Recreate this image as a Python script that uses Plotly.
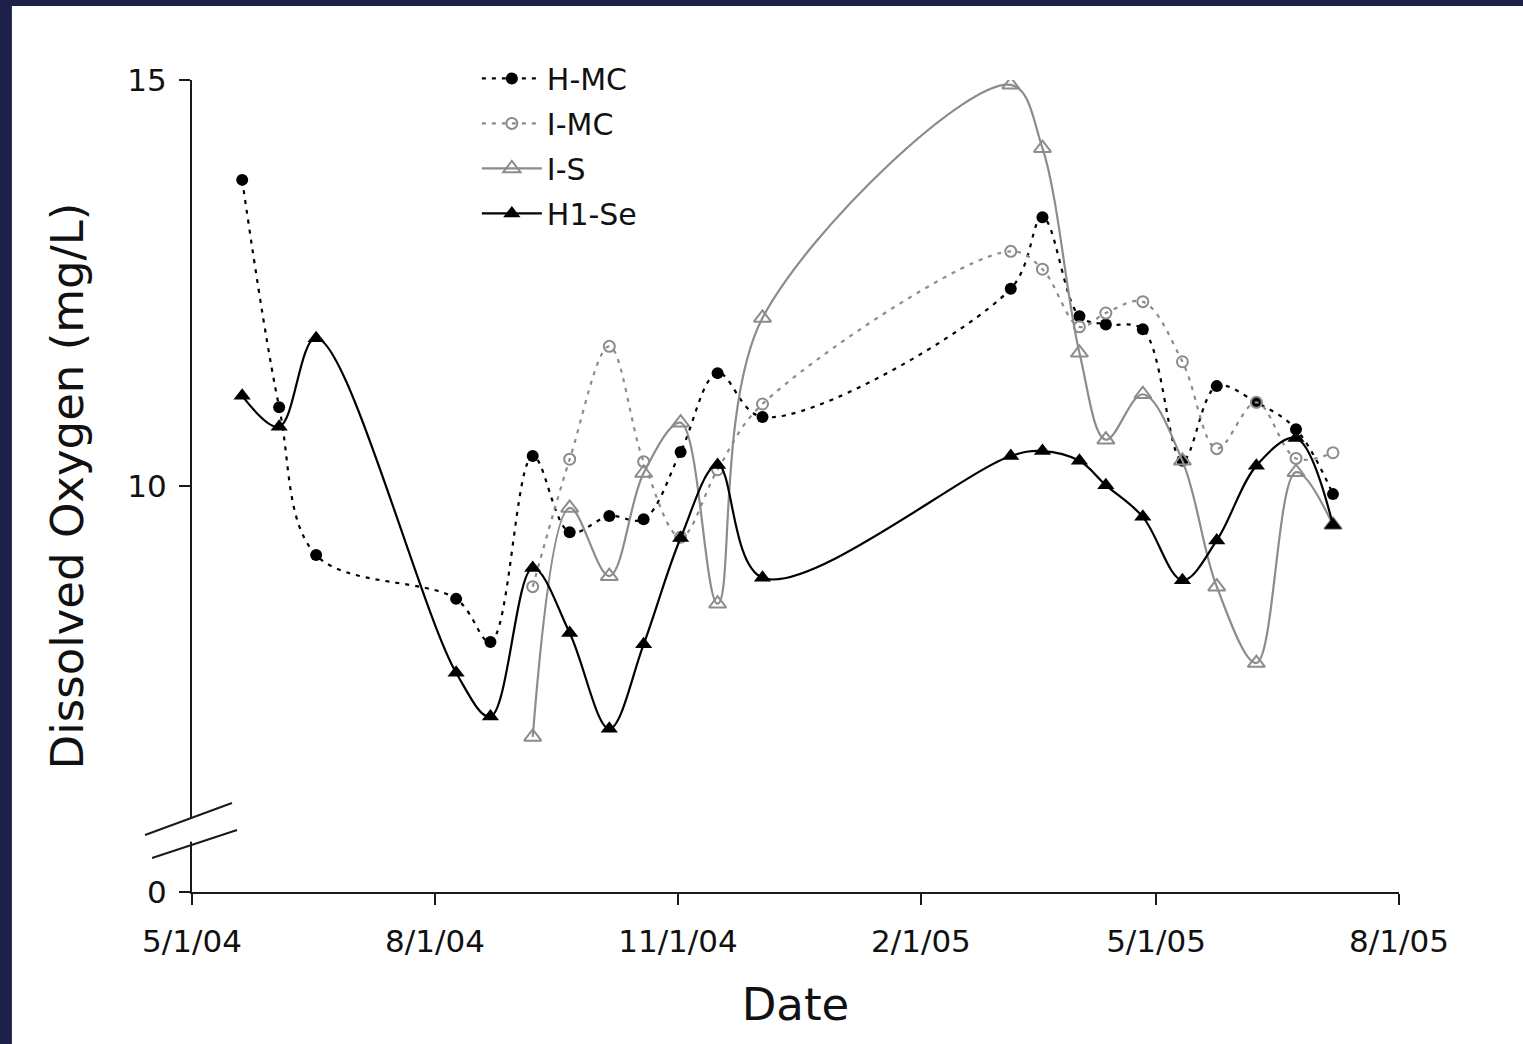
import plotly.graph_objects as go

# ---- data ----
dates = ["2004-05-20", "2004-06-03", "2004-06-17", "2004-08-09", "2004-08-22",
         "2004-09-07", "2004-09-21", "2004-10-06", "2004-10-19", "2004-11-02",
         "2004-11-16", "2004-12-03", "2005-03-07", "2005-03-19", "2005-04-02",
         "2005-04-12", "2005-04-26", "2005-05-11", "2005-05-24", "2005-06-08",
         "2005-06-23", "2005-07-07"]
dates_i = dates[5:]

h_mc = [13.77, 10.97, 9.15, 8.61, 8.08, 10.37, 9.43, 9.63, 9.59, 10.42, 11.39,
        10.85, 12.43, 13.31, 12.09, 11.99, 11.93, 10.31, 11.23, 11.03, 10.70, 9.90]
h1_se = [11.11, 10.73, 11.82, 7.70, 7.16, 8.99, 8.19, 7.01, 8.05, 9.36, 10.26,
         8.87, 10.37, 10.43, 10.31, 10.01, 9.62, 8.84, 9.33, 10.25, 10.59, 9.52]
i_mc = [8.76, 10.33, 11.72, 10.30, 9.37, 10.20, 11.01, 12.89, 12.67, 11.96,
        12.13, 12.27, 11.53, 10.46, 11.03, 10.34, 10.41]
i_s = [6.91, 9.73, 8.89, 10.16, 10.78, 8.55, 12.07, 14.94, 14.16, 11.64,
       10.57, 11.13, 10.31, 8.76, 7.82, 10.17, 9.52]

x_tickvals = ["2004-05-01", "2004-08-01", "2004-11-01", "2005-02-01", "2005-05-01", "2005-08-01"]
x_ticktext = ["5/1/04", "8/1/04", "11/1/04", "2/1/05", "5/1/05", "8/1/05"]
y_tickvals = [5, 10, 15]
y_ticktext = ["0", "10", "15"]

GRAY = "#8c8c8c"
BLACK = "#000000"
FONT = "DejaVu Sans"

fig = go.Figure()
fig.add_trace(go.Scatter(
    x=dates, y=h_mc, name="H-MC", mode="lines+markers", legendgroup="a",
    line=dict(color=BLACK, width=2.2, dash="4px,6px", shape="spline"),
    marker=dict(symbol="circle", size=12, color=BLACK)))
fig.add_trace(go.Scatter(
    x=dates_i, y=i_mc, name="I-MC", mode="lines+markers", legendgroup="b",
    line=dict(color=GRAY, width=2.2, dash="4px,6px", shape="spline"),
    marker=dict(symbol="circle-open", size=11, color=GRAY, line=dict(width=2, color=GRAY))))
fig.add_trace(go.Scatter(
    x=dates_i, y=i_s, name="I-S", mode="lines+markers", legendgroup="c",
    line=dict(color=GRAY, width=2.2, shape="spline"),
    marker=dict(symbol="triangle-up-open", size=15, color=GRAY, line=dict(width=2, color=GRAY))))
fig.add_trace(go.Scatter(
    x=dates, y=h1_se, name="H1-Se", mode="lines+markers", legendgroup="d",
    line=dict(color=BLACK, width=2.2, shape="spline"),
    marker=dict(symbol="triangle-up", size=15, color=BLACK)))

NAVY = "#1e1f4a"
shapes = [
    # navy frame on left and top
    dict(type="rect", xref="paper", yref="paper", x0=-0.2, x1=-0.1492, y0=-0.3, y1=1.3,
         fillcolor=NAVY, line=dict(width=0), layer="below"),
    dict(type="rect", xref="paper", yref="paper", x0=-0.2, x1=1.3, y0=1.0911, y1=1.3,
         fillcolor=NAVY, line=dict(width=0), layer="below"),
    # y axis extension below x axis
    dict(type="line", xref="paper", yref="paper", x0=0, x1=0, y0=0, y1=-0.0125,
         line=dict(color="#1a1a1a", width=2)),
    # axis break: white gap then two slanted lines
    dict(type="line", xref="paper", yref="paper", x0=0, x1=0, y0=0.062, y1=0.090,
         line=dict(color="white", width=5)),
    dict(type="line", xref="paper", yref="paper", x0=-0.0389, x1=0.0331, y0=0.0702, y1=0.1096,
         line=dict(color="#1a1a1a", width=2)),
    dict(type="line", xref="paper", yref="paper", x0=-0.0331, x1=0.0373, y0=0.0419, y1=0.0764,
         line=dict(color="#1a1a1a", width=2)),
]

fig.update_layout(
    width=1523, height=1044,
    margin=dict(l=192, r=124, t=80, b=152, autoexpand=False),
    paper_bgcolor="white", plot_bgcolor="white",
    font=dict(family=FONT, color="#111111", size=30),
    shapes=shapes,
    showlegend=True,
    legend=dict(x=0.236, y=1.034, xanchor="left", yanchor="top",
                bgcolor="rgba(0,0,0,0)", font=dict(size=30, family=FONT),
                tracegroupgap=3, itemwidth=60),
    xaxis=dict(type="date", range=["2004-05-01", "2005-08-01"],
               tickvals=x_tickvals, ticktext=x_ticktext,
               showline=True, linecolor="#1a1a1a", linewidth=2,
               ticks="outside", ticklen=11, tickwidth=2, tickcolor="#1a1a1a",
               showgrid=False, zeroline=False, ticklabelstandoff=10,
               tickfont=dict(size=31, family=FONT),
               title=dict(text="Date", font=dict(size=45, family=FONT), standoff=30)),
    yaxis=dict(range=[5, 15], tickvals=y_tickvals, ticktext=y_ticktext,
               showline=True, linecolor="#1a1a1a", linewidth=2,
               ticks="outside", ticklen=11, tickwidth=2, tickcolor="#1a1a1a",
               showgrid=False, zeroline=False, ticklabelstandoff=6,
               tickfont=dict(size=31, family=FONT),
               title=dict(text="Dissolved Oxygen (mg/L)", font=dict(size=45, family=FONT), standoff=30)),
)

fig.write_html("out.html")
